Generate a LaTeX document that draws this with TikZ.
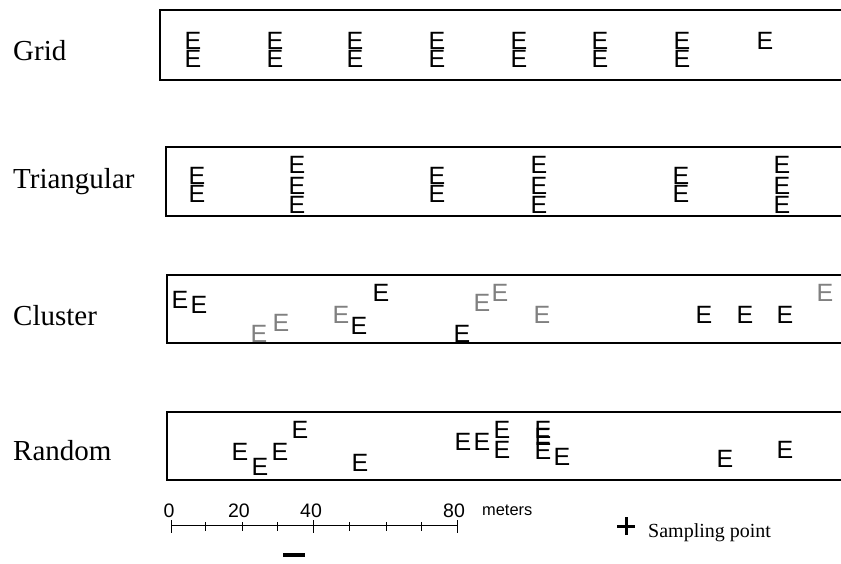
\documentclass[tikz,border=0pt]{standalone}
\usepackage{fontspec}
\setmainfont{Liberation Serif}
\newfontfamily\pointfont{Liberation Sans}
\begin{document}
\begin{tikzpicture}[x=1pt,y=-1pt,
  plotbox/.style={line width=1.8pt},
  rowlabel/.style={anchor=base west,inner sep=0pt,font=\fontsize{29}{29}\selectfont},
  pt/.style={inner sep=0pt,font=\pointfont\fontsize{25}{25}\selectfont},
  faint/.style={pt,text=black!50},
  scalenum/.style={inner sep=0pt,font=\pointfont\fontsize{19.5}{19.5}\selectfont},
  tick/.style={line width=0.9pt}]
\useasboundingbox (0,0) rectangle (841,563);

% ---- row labels
\node[rowlabel] (lgrid) at (13,60) {Grid};
\node[rowlabel] (ltri)  at (13,188) {Triangular};
\node[rowlabel] (lclu)  at (13,325) {Cluster};
\node[rowlabel] (lran)  at (13,460) {Random};

% ---- plot strips (open on the right)
\draw[plotbox] (850,10)  -- (160,10)  -- (160,80)  -- (850,80);
\draw[plotbox] (850,147) -- (166,147) -- (166,216) -- (850,216);
\draw[plotbox] (850,275) -- (167,275) -- (167,343) -- (850,343);
\draw[plotbox] (850,412) -- (167,412) -- (167,480) -- (850,480);

% ---- grid layout
\foreach \x [count=\i] in {193,275,355,437,519,600,682}{
  \node[pt] (g\i a) at (\x,41) {E};
  \node[pt] (g\i b) at (\x,59) {E};
}
\node[pt] (g8a) at (765,41) {E};

% ---- triangular layout
\foreach \x [count=\i] in {197,437,681}{
  \node[pt] (td\i a) at (\x,176) {E};
  \node[pt] (td\i b) at (\x,194) {E};
}
\foreach \x [count=\i] in {297,539,782}{
  \node[pt] (tt\i a) at (\x,165) {E};
  \node[pt] (tt\i b) at (\x,186) {E};
  \node[pt] (tt\i c) at (\x,205) {E};
}

% ---- cluster layout
\node[pt]    (c1)  at (180,300) {E};
\node[pt]    (c2)  at (199,305) {E};
\node[faint] (c3)  at (259,334) {E};
\node[faint] (c4)  at (281,323) {E};
\node[faint] (c5)  at (341,315) {E};
\node[pt]    (c6)  at (359,326) {E};
\node[pt]    (c7)  at (381,293) {E};
\node[pt]    (c8)  at (462,334) {E};
\node[faint] (c9)  at (482,303) {E};
\node[faint] (c10) at (500,293) {E};
\node[faint] (c11) at (542,315) {E};
\node[pt]    (c12) at (704,315) {E};
\node[pt]    (c13) at (745,315) {E};
\node[pt]    (c14) at (785,315) {E};
\node[faint] (c15) at (825,293) {E};

% ---- random layout
\node[pt] (r1)  at (240,452) {E};
\node[pt] (r2)  at (260,467) {E};
\node[pt] (r3)  at (280,452) {E};
\node[pt] (r4)  at (300,430) {E};
\node[pt] (r5)  at (360,463) {E};
\node[pt] (r6)  at (463,442) {E};
\node[pt] (r7)  at (482,442) {E};
\node[pt] (r8)  at (502,430) {E};
\node[pt] (r9)  at (502,450) {E};
\node[pt] (r10) at (543,430) {E};
\node[pt] (r11) at (543,437) {E};
\node[pt] (r12) at (543,451) {E};
\node[pt] (r13) at (562,457) {E};
\node[pt] (r14) at (725,459) {E};
\node[pt] (r15) at (785,450) {E};

% ---- scale bar
\coordinate (s0) at (171,525);
\coordinate (s80) at (457,525);
\draw[tick] (s0) -- (s80);
\foreach \x in {205,242,277,349,386,421}{
  \draw[tick] (\x,522) -- (\x,531);
}
\foreach \x in {171,313,457}{
  \draw[tick] (\x,520) -- (\x,533);
}
\node[scalenum] (n0)  at (169,511) {0};
\node[scalenum] (n20) at (239,511) {20};
\node[scalenum] (n40) at (311,511) {40};
\node[scalenum] (n80) at (454,511) {80};
\node[inner sep=0pt,anchor=base west,font=\pointfont\fontsize{16.4}{16.4}\selectfont] (unit) at (482,515) {meters};
\draw[line width=3.5pt] (283,555) -- (305,555);

% ---- legend
\coordinate (plus) at (626,526);
\draw[line width=3pt] ([xshift=-9pt]plus) -- ([xshift=9pt]plus);
\draw[line width=3pt] ([yshift=-9pt]plus) -- ([yshift=9pt]plus);
\node[anchor=base west,inner sep=0pt,font=\fontsize{20}{20}\selectfont] (legend) at (648,537) {Sampling point};
\end{tikzpicture}
\end{document}
